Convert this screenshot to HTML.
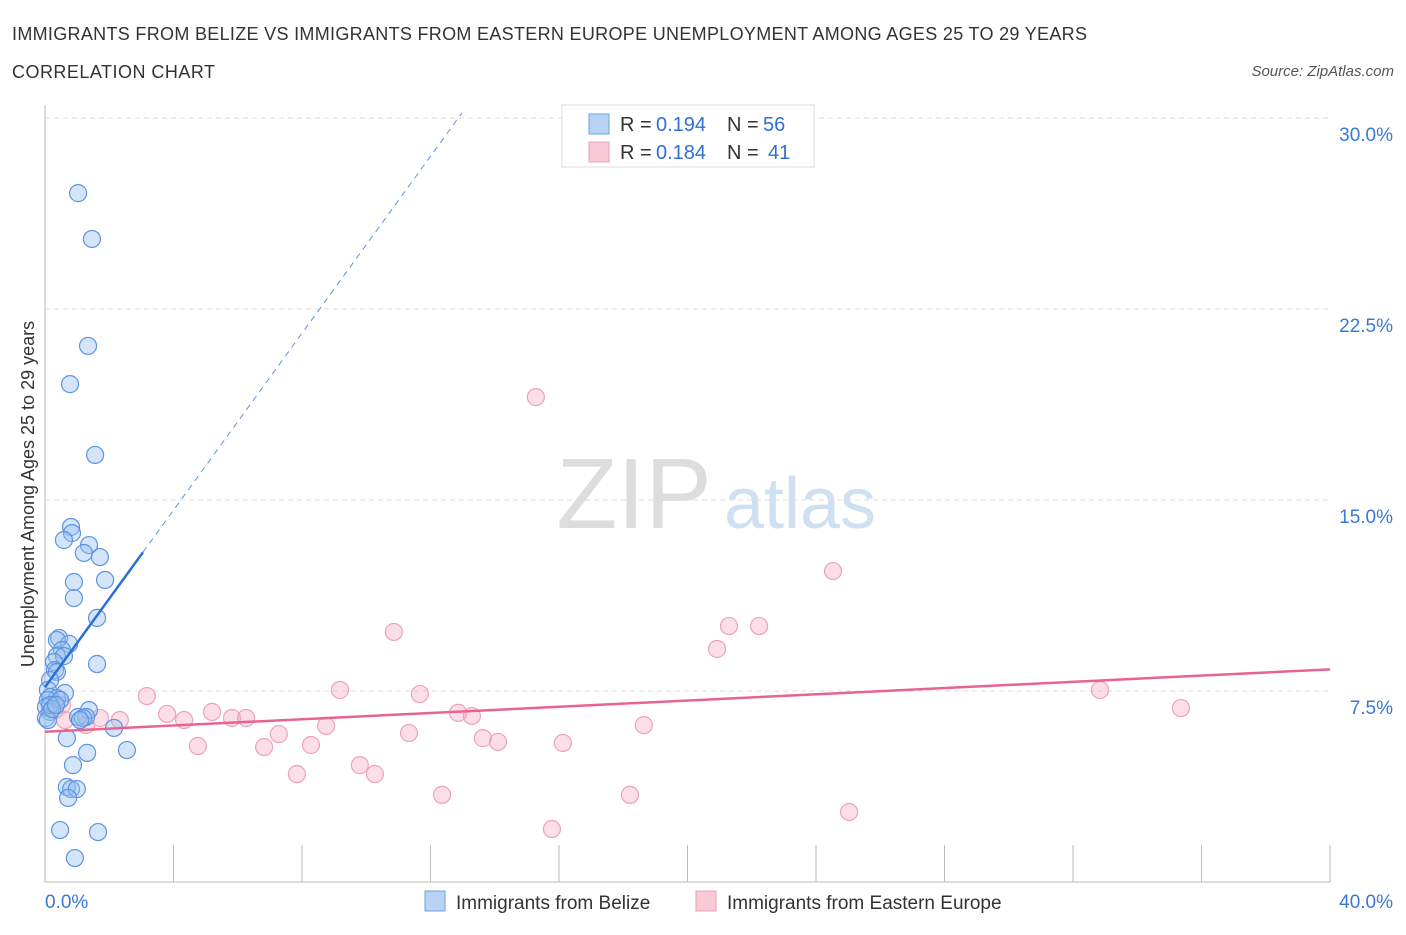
<!DOCTYPE html>
<html><head><meta charset="utf-8"><style>
body{margin:0;background:#fff;font-family:"Liberation Sans",sans-serif;}
svg text{font-family:"Liberation Sans",sans-serif;}
</style></head><body>
<svg id="chart" width="1406" height="930">
<text x="12" y="40" font-size="18" fill="#333" textLength="1075">IMMIGRANTS FROM BELIZE VS IMMIGRANTS FROM EASTERN EUROPE UNEMPLOYMENT AMONG AGES 25 TO 29 YEARS</text>
<text x="12" y="78" font-size="18" fill="#333" textLength="203">CORRELATION CHART</text>
<text x="1394" y="76" font-size="15" fill="#555" font-style="italic" text-anchor="end">Source: ZipAtlas.com</text>
<text x="634" y="528" font-size="100" fill="#ddd" font-family="Liberation Serif" text-anchor="middle">ZIP</text>
<text x="800" y="528" font-size="72" fill="#cfe0f3" text-anchor="middle">atlas</text>
<g id="grid"></g>
<g id="axes"></g>
<g id="pts"></g>
<g id="lines"></g>
<text transform="translate(34,494) rotate(-90)" font-size="18" fill="#333" text-anchor="middle">Unemployment Among Ages 25 to 29 years</text>
<g>
<rect x="562" y="105" width="252" height="62" fill="#fff" stroke="#ddd"/>
<rect x="589" y="114" width="20" height="20" fill="#b9d3f5" stroke="#6fa0e0"/>
<rect x="589" y="142" width="20" height="20" fill="#f9c9d6" stroke="#eaa0b6"/>
<text x="620" y="131" font-size="20" fill="#333">R =</text>
<text x="656" y="131" font-size="20" fill="#2f6fd6">0.194</text>
<text x="727" y="131" font-size="20" fill="#333">N =</text>
<text x="763" y="131" font-size="20" fill="#2f6fd6">56</text>
<text x="620" y="159" font-size="20" fill="#333">R =</text>
<text x="656" y="159" font-size="20" fill="#2f6fd6">0.184</text>
<text x="727" y="159" font-size="20" fill="#333">N =</text>
<text x="768" y="159" font-size="20" fill="#2f6fd6">41</text>
</g>
<g>
<rect x="425" y="891" width="20" height="20" fill="#b9d3f5" stroke="#6fa0e0"/>
<text x="456" y="909" font-size="19" fill="#333">Immigrants from Belize</text>
<rect x="696" y="891" width="20" height="20" fill="#f9c9d6" stroke="#eaa0b6"/>
<text x="727" y="909" font-size="19" fill="#333">Immigrants from Eastern Europe</text>
</g>
</svg>
<script>
const yTicks=[7.5,15,22.5,30];
const yTickLabels=["7.5%","15.0%","22.5%","30.0%"];
const belizeX=[1.03,1.46,1.34,0.78,1.56,0.81,0.84,0.59,1.37,1.21,1.71,1.87,0.90,0.90,1.62,0.44,0.37,0.75,0.53,0.37,0.59,0.28,0.31,0.37,1.62,0.16,0.09,0.62,0.16,0.37,0.09,0.47,0.03,0.16,0.03,0.09,1.37,1.03,1.28,1.18,1.09,2.15,0.68,1.31,2.55,0.87,0.68,0.81,0.99,0.72,0.47,1.65,0.93,0.16,0.22,0.34];
const belizeY=[27.05,25.25,21.05,19.55,16.77,13.94,13.7,13.43,13.23,12.92,12.76,11.86,11.78,11.15,10.37,9.58,9.5,9.35,9.11,8.87,8.87,8.64,8.32,8.25,8.56,7.93,7.54,7.42,7.26,7.22,7.15,7.15,6.87,6.68,6.44,6.36,6.75,6.48,6.48,6.44,6.36,6.05,5.65,5.07,5.18,4.59,3.73,3.65,3.65,3.3,2.04,1.96,0.94,6.95,6.79,6.95];
const europeX=[15.28,24.53,10.86,21.29,22.23,20.92,32.84,35.36,3.17,9.18,11.67,3.80,5.20,5.82,6.26,4.33,1.71,2.33,0.62,1.28,12.86,13.29,8.75,7.28,11.33,18.64,4.76,6.82,8.28,13.63,14.10,16.12,9.80,7.84,10.27,12.36,18.21,25.03,15.78,0.31,0.53];
const europeY=[19.04,12.21,9.82,10.05,10.05,9.15,7.54,6.83,7.3,7.54,7.38,6.6,6.68,6.44,6.44,6.36,6.44,6.36,6.36,6.16,6.64,6.52,6.13,5.81,5.85,6.16,5.34,5.3,5.38,5.65,5.5,5.46,4.59,4.24,4.24,3.42,3.42,2.75,2.08,6.75,6.95];
const belizeTrend=[[0,7.65],[3.05,12.95]];
const belizeDash=[[3.05,12.95],[12.98,30.2]];
const europeTrend=[[0,5.9],[40,8.35]];
const X=v=>45+v/40*1285, Y=v=>882-v/7.5*191;
const NS="http://www.w3.org/2000/svg";
function el(p,t,a){const e=document.createElementNS(NS,t);for(const k in a)e.setAttribute(k,a[k]);p.appendChild(e);return e;}
const grid=document.getElementById('grid'),axes=document.getElementById('axes'),pts=document.getElementById('pts'),lines=document.getElementById('lines');
yTicks.forEach((v,i)=>{
 const l=el(grid,'line',{x1:45,x2:1330,y1:Y(v),y2:Y(v),stroke:'#ddd','stroke-dasharray':'5,4'});
 
 
 const t=el(axes,'text',{x:1393,y:Y(v)+23,'font-size':19,fill:'#3a78d8','text-anchor':'end'});t.textContent=yTickLabels[i];
 
 
});
const ax=el(axes,'line',{x1:45,x2:1330,y1:882,y2:882,stroke:'#bbb'});


const ay=el(axes,'line',{x1:45,x2:45,y1:105,y2:882,stroke:'#bbb'});


for(let i=1;i<=10;i++){const t=el(axes,'line',{x1:X(i*4),x2:X(i*4),y1:845,y2:882,stroke:'#bbb'});
 
 }
[["0.0%",45,'start'],["40.0%",1393,'end']].forEach(d=>{const t=el(axes,'text',{x:d[1],y:908,'font-size':19,fill:'#3a78d8','text-anchor':d[2]});t.textContent=d[0];
 
 });
europeX.forEach((v,i)=>{const c=el(pts,'circle',{cx:X(v),cy:Y(europeY[i]),r:8.5,fill:'rgba(244,160,185,0.35)',stroke:'#eea3b9','stroke-width':1.2});
 
 });
belizeX.forEach((v,i)=>{const c=el(pts,'circle',{cx:X(v),cy:Y(belizeY[i]),r:8.5,fill:'rgba(150,190,240,0.4)',stroke:'#5b95e0','stroke-width':1.2});
 
 });
const l1=el(lines,'line',{x1:X(belizeTrend[0][0]),y1:Y(belizeTrend[0][1]),x2:X(belizeTrend[1][0]),y2:Y(belizeTrend[1][1]),stroke:'#2a6fd8','stroke-width':2.5});


const l2=el(lines,'line',{x1:X(belizeDash[0][0]),y1:Y(belizeDash[0][1]),x2:X(belizeDash[1][0]),y2:Y(belizeDash[1][1]),stroke:'#5b95e0','stroke-width':1,'stroke-dasharray':'6,5'});


const l3=el(lines,'line',{x1:X(europeTrend[0][0]),y1:Y(europeTrend[0][1]),x2:X(europeTrend[1][0]),y2:Y(europeTrend[1][1]),stroke:'#e8648f','stroke-width':2.5});


</script>
</body></html>
